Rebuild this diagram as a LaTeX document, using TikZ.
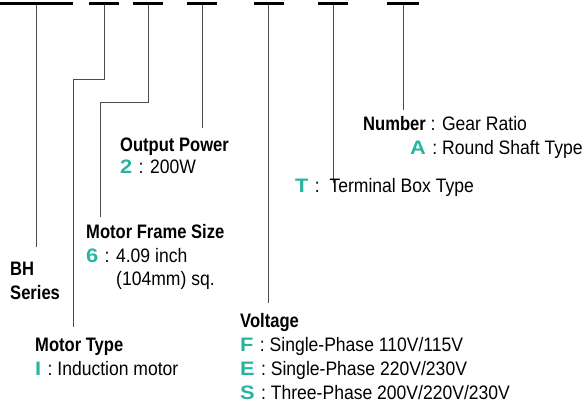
\documentclass[tikz,border=0pt]{standalone}
\usepackage{fontspec}
\setmainfont{Liberation Sans}[FakeStretch=0.9, BoldFeatures={FakeStretch=0.85}]
\newfontfamily\tkfont{Liberation Sans}[FakeStretch=1.12]
\definecolor{tealk}{RGB}{40,180,160}
\newcommand{\fsz}{\fontsize{19.5}{24}\selectfont}
\newcommand{\tk}[1]{\textcolor{tealk}{\tkfont\bfseries #1}\kern1.5pt\relax}
\begin{document}
\begin{tikzpicture}[x=1pt,y=-1pt,
  bar/.style={fill=black, inner sep=0pt, minimum height=3.5pt},
  lead/.style={draw=black!70, line width=0.9pt},
  lbl/.style={anchor=base west, inner sep=0pt, font=\fsz},
  hd/.style={lbl, font=\fsz\bfseries}]
\useasboundingbox (0,0) rectangle (586,406);
% code bars
\node[bar, minimum width=73pt] (b1) at (36.5,3.5) {};
\node[bar, minimum width=30pt] (b2) at (104,3.5) {};
\node[bar, minimum width=30pt] (b3) at (148,3.5) {};
\node[bar, minimum width=30pt] (b4) at (202,3.5) {};
\node[bar, minimum width=30pt] (b5) at (268.5,3.5) {};
\node[bar, minimum width=30pt] (b6) at (333,3.5) {};
\node[bar, minimum width=32pt] (b7) at (403,3.5) {};
% leader end points
\coordinate (e1) at (36.5,247);
\coordinate (k2) at (73,79);
\coordinate (e2) at (73,327);
\coordinate (k3) at (100,102);
\coordinate (e3) at (100,217);
\coordinate (e4) at (202,128);
\coordinate (e5) at (268.5,303);
\coordinate (e6) at (333,183);
\coordinate (e7) at (403,110);
% leaders
\draw[lead] (b1.south) -- (e1);
\draw[lead] (b2.south) |- (k2) -- (e2);
\draw[lead] (b3.south) |- (k3) -- (e3);
\draw[lead] (b4.south) -- (e4);
\draw[lead] (b5.south) -- (e5);
\draw[lead] (b6.south) -- (e6);
\draw[lead] (b7.south) -- (e7);
% labels
\node[hd] (bh) at (10,275) {BH};
\node[hd] (ser) at (10,299) {Series};
\node[hd] (mt) at (35,351) {Motor Type};
\node[lbl] (mt1) at (35,375) {\tk{I} : Induction motor};
\node[hd] (op) at (120,152) {Output Power};
\node[lbl] (op1) at (120,174) {\tk{2} : 200W};
\node[hd] (mf) at (86,238) {Motor Frame Size};
\node[lbl] (mf1) at (86,262) {\tk{6} : 4.09 inch};
\node[lbl] (mf2) at (116,285) {(104mm) sq.};
\node[hd] (vo) at (240,327) {Voltage};
\node[lbl] (vf) at (240,351) {\tk{F} : Single-Phase 110V/115V};
\node[lbl] (ve) at (240,375) {\tk{E} : Single-Phase 220V/230V};
\node[lbl] (vs) at (240,399) {\tk{S} : Three-Phase 200V/220V/230V};
\node[lbl] (tb) at (295,193) {\tk{T} :\ \ Terminal Box Type};
\node[lbl] (nu) at (363,131) {\textbf{Number} : Gear Ratio};
\node[lbl] (ra) at (410,155) {\tk{A} : Round Shaft Type};
\end{tikzpicture}
\end{document}
